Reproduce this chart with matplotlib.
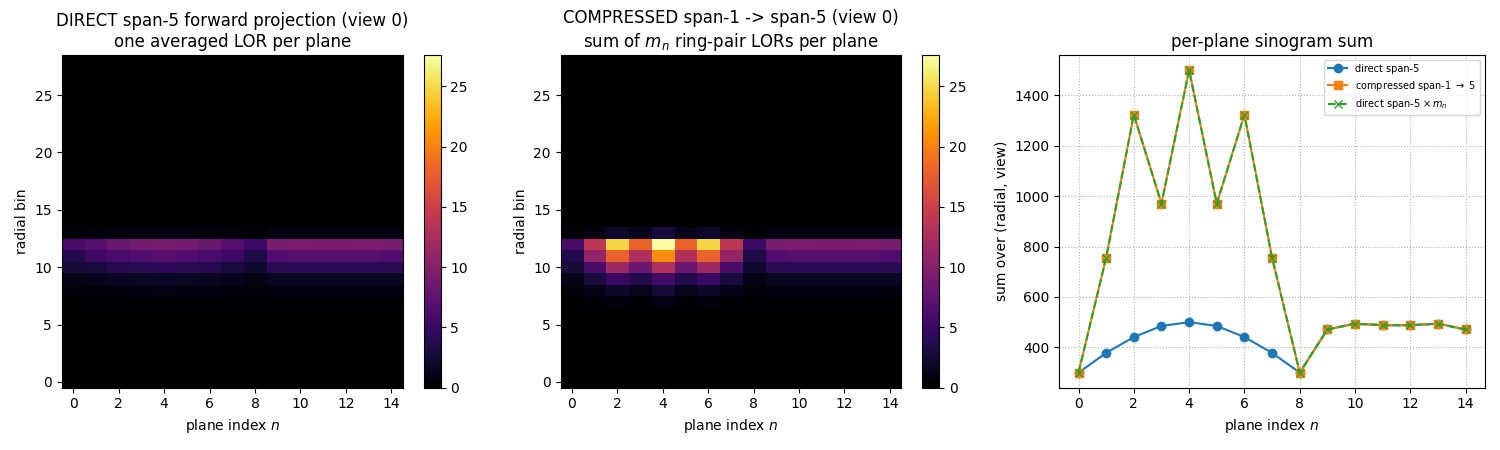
import numpy as np
import matplotlib
matplotlib.use("Agg")
import matplotlib.pyplot as plt

# plane indices and ring-pair multiplicity per plane
planes = list(range(15))
m_n = [1, 2, 3, 2, 3, 2, 3, 2, 1, 1, 1, 1, 1, 1, 1]

# per-plane sinogram sums
direct_sum = [300, 378, 441, 485, 500, 485, 441, 378, 300, 471, 494, 488, 488, 494, 471]
compressed_sum = [300, 756, 1323, 970, 1500, 970, 1323, 756, 300, 471, 494, 488, 488, 494, 471]

# view-0 radial profiles, rows 7..13 (all other radial bins are ~0)
n_radial = 29
band_rows = [7, 8, 9, 10, 11, 12, 13]
direct_band = [
    [0.1, 0.2, 0.2, 0.2, 0.3, 0.2, 0.2, 0.2, 0.1, 0.2, 0.2, 0.2, 0.2, 0.2, 0.2],
    [0.5, 0.55, 0.7, 0.75, 0.9, 0.75, 0.7, 0.55, 0.45, 0.7, 0.7, 0.7, 0.7, 0.7, 0.7],
    [1.2, 1.5, 1.7, 1.8, 1.9, 1.8, 1.7, 1.5, 1.0, 1.7, 1.7, 1.7, 1.7, 1.7, 1.7],
    [2.7, 3.0, 3.9, 4.1, 4.3, 4.1, 3.9, 3.0, 2.2, 4.1, 4.2, 4.2, 4.2, 4.2, 4.1],
    [3.6, 5.5, 6.0, 6.5, 6.9, 6.5, 6.0, 5.5, 3.3, 6.7, 6.9, 6.9, 6.9, 6.9, 6.7],
    [6.0, 6.9, 8.3, 9.0, 9.2, 9.0, 8.3, 6.9, 5.3, 9.2, 9.4, 9.3, 9.3, 9.4, 9.2],
    [0.3, 0.5, 0.67, 0.7, 0.9, 0.7, 0.67, 0.5, 0.3, 0.8, 0.8, 0.8, 0.8, 0.8, 0.8],
]
compressed_band = [
    [0.1, 0.4, 0.6, 0.4, 0.9, 0.4, 0.6, 0.4, 0.1, 0.2, 0.2, 0.2, 0.2, 0.2, 0.2],
    [0.5, 1.1, 2.1, 1.5, 2.7, 1.5, 2.1, 1.1, 0.45, 0.7, 0.7, 0.7, 0.7, 0.7, 0.7],
    [1.2, 3.0, 5.1, 3.6, 5.7, 3.6, 5.1, 3.0, 1.0, 1.7, 1.7, 1.7, 1.7, 1.7, 1.7],
    [2.7, 6.0, 11.7, 8.2, 12.9, 8.2, 11.7, 6.0, 2.2, 4.1, 4.2, 4.2, 4.2, 4.2, 4.1],
    [3.6, 11.0, 18.0, 13.0, 20.7, 13.0, 18.0, 11.0, 3.3, 6.7, 6.9, 6.9, 6.9, 6.9, 6.7],
    [6.0, 13.8, 24.9, 18.0, 27.6, 18.0, 24.9, 13.8, 5.3, 9.2, 9.4, 9.3, 9.3, 9.4, 9.2],
    [0.3, 1.0, 2.0, 1.4, 2.7, 1.4, 2.0, 1.0, 0.3, 0.8, 0.8, 0.8, 0.8, 0.8, 0.8],
]


def full_image(band):
    img = np.zeros((n_radial, len(planes)))
    for r, row in zip(band_rows, band):
        img[r, :] = row
    return img


direct_img = full_image(direct_band)
compressed_img = full_image(compressed_band)
vmax = compressed_img.max()

fig, axes = plt.subplots(1, 3, figsize=(15, 4.5))

im0 = axes[0].imshow(direct_img, origin="lower", aspect="auto", cmap="inferno",
                     vmin=0, vmax=vmax)
axes[0].set_title("DIRECT span-5 forward projection (view 0)\none averaged LOR per plane")
axes[0].set_xlabel("plane index $n$")
axes[0].set_ylabel("radial bin")
fig.colorbar(im0, ax=axes[0])

im1 = axes[1].imshow(compressed_img, origin="lower", aspect="auto", cmap="inferno",
                     vmin=0, vmax=vmax)
axes[1].set_title("COMPRESSED span-1 -> span-5 (view 0)\nsum of $m_n$ ring-pair LORs per plane")
axes[1].set_xlabel("plane index $n$")
axes[1].set_ylabel("radial bin")
fig.colorbar(im1, ax=axes[1])

ax = axes[2]
scaled = np.array(direct_sum) * np.array(m_n)
ax.plot(planes, direct_sum, "o-", label="direct span-5")
ax.plot(planes, compressed_sum, "s-", label=r"compressed span-1 $\to$ 5")
ax.plot(planes, scaled, "x--", label=r"direct span-5 $\times\, m_n$")
ax.set_title("per-plane sinogram sum")
ax.set_xlabel("plane index $n$")
ax.set_ylabel("sum over (radial, view)")
ax.set_xticks(range(0, 15, 2))
ax.grid(True, linestyle=":")
ax.legend(fontsize=7)

plt.tight_layout()
fig.subplots_adjust(top=0.878)
plt.savefig("out.png", dpi=100)
